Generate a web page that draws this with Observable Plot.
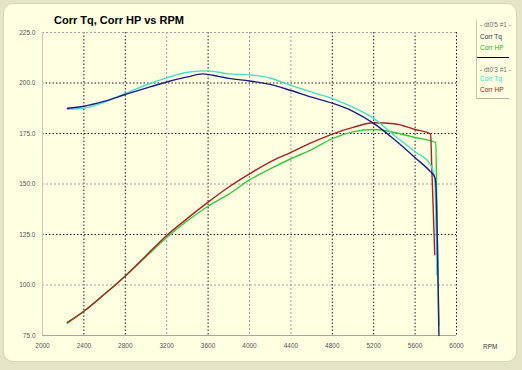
<!DOCTYPE html>
<html>
<head>
<meta charset="utf-8">
<script src="https://cdn.jsdelivr.net/npm/d3@7"></script>
<script src="https://cdn.jsdelivr.net/npm/@observablehq/plot@0.6"></script>
<style>
  html, body { margin: 0; padding: 0; }
  #wrap { position: relative; width: 522px; height: 370px; background: #e4e4c6; overflow: hidden; font-family: "Liberation Sans", Arial, sans-serif; }
  #panel { position: absolute; left: 3px; top: 3px; width: 512px; height: 357px; background: #ffffe2; border: 1px solid #d6d6b8; border-radius: 10px; }
  #chart { position: absolute; left: 0; top: 0; }
  #title { position: absolute; left: 54px; top: 14px; font-size: 11px; font-weight: bold; color: #000; }
  #rpm { position: absolute; left: 483px; top: 343px; font-size: 6.5px; color: #404040; }
  .lg { position: absolute; left: 480px; font-size: 6.5px; color: #707070; white-space: nowrap; }
  .lline { position: absolute; left: 477px; width: 32px; height: 1px; }
  #lborder { position: absolute; left: 476px; top: 20px; width: 1px; height: 79px; background: #c8c8b0; }
</style>
</head>
<body>
<div id="wrap">
  <div id="panel"></div>
  <div id="chart"></div>
  <div id="title">Corr Tq, Corr HP vs RPM</div>
  <div id="rpm">RPM</div>
  <div id="lborder"></div>
  <div class="lg" style="top:21px">- dt0'5 #1 -</div>
  <div class="lg" style="top:33px;color:#303050">Corr Tq</div>
  <div class="lg" style="top:44px;color:#30b030">Corr HP</div>
  <div class="lline" style="top:57px;background:#000"></div>
  <div class="lg" style="top:66px">- dt0'3 #1 -</div>
  <div class="lg" style="top:75px;color:#40d8c8">Corr Tq</div>
  <div class="lg" style="top:86px;color:#902020">Corr HP</div>
  <div class="lline" style="top:98px;background:#b0b0a0"></div>
</div>
<script>
// Tick values
const xTicks = [2000, 2400, 2800, 3200, 3600, 4000, 4400, 4800, 5200, 5600, 6000];
const yTicks = [75, 100, 125, 150, 175, 200, 225];
const xGridDark = [2400, 2800, 3600, 4800, 5200, 5600, 6000];
const xGridLight = [3200, 4000, 4400];
const yGridDark = [125, 175, 200];
const yGridLight = [100, 150, 225];

// Run 1 (dt0'5 #1): Corr Tq (navy), Corr HP (green)
const rpmTq1 = [2240, 2400, 2600, 2800, 3000, 3200, 3400, 3550, 3700, 3800, 4000, 4200, 4400, 4600, 4800, 5000, 5200, 5400, 5600, 5750, 5790, 5800, 5830];
const tq1    = [187.5, 188.5, 191, 194.3, 197.5, 200.5, 203, 204.5, 203.3, 202.3, 201, 199.3, 196.3, 193, 190, 186, 180, 172, 163, 156, 153.5, 150, 75];
const rpmHp1 = [2240, 2400, 2600, 2800, 3000, 3200, 3400, 3600, 3800, 4000, 4200, 4400, 4600, 4800, 5000, 5200, 5400, 5600, 5800, 5810, 5830];
const hp1    = [81, 87, 95.5, 104.5, 114, 123.5, 131.8, 139, 145, 152, 157.5, 162.5, 167, 172.5, 175.8, 177, 175.5, 173, 170.5, 140, 80];

// Run 2 (dt0'3 #1): Corr Tq (cyan), Corr HP (red)
const rpmTq2 = [2240, 2400, 2600, 2800, 3000, 3200, 3400, 3600, 3800, 4000, 4200, 4400, 4600, 4800, 5000, 5200, 5400, 5600, 5750, 5790, 5810];
const tq2    = [187, 187.5, 190.5, 194.8, 199, 202.5, 205.3, 206, 204.5, 204, 202.5, 198.8, 195.5, 192.3, 188, 182.5, 174, 166, 159.5, 152, 105];
const rpmHp2 = [2240, 2400, 2600, 2800, 3000, 3200, 3400, 3600, 3800, 4000, 4200, 4400, 4600, 4800, 5000, 5200, 5400, 5600, 5750, 5760, 5790];
const hp2    = [81.5, 87, 95.5, 104.5, 114.5, 124.5, 133, 141, 148.5, 155, 161, 165.7, 170.5, 174.7, 178, 180.3, 179.8, 177, 174.8, 160, 115];

const toRows = (xs, ys) => xs.map((x, i) => ({rpm: x, v: ys[i]}));
const series = [
  {rows: toRows(rpmHp1, hp1), color: "#3cc83c"},
  {rows: toRows(rpmHp2, hp2), color: "#a82222"},
  {rows: toRows(rpmTq2, tq2), color: "#48dccc"},
  {rows: toRows(rpmTq1, tq1), color: "#1c1c88"}
];

const chart = Plot.plot({
  width: 522,
  height: 370,
  marginLeft: 42,
  marginRight: 66,
  marginTop: 32,
  marginBottom: 35,
  style: {background: "transparent", fontFamily: "Liberation Sans, Arial, sans-serif", fontSize: "6.5px", color: "#555"},
  x: {domain: [2000, 6000]},
  y: {domain: [75, 225]},
  marks: [
    Plot.ruleX(xGridDark, {stroke: "#202020", strokeDasharray: "1.5,2", strokeWidth: 1}),
    Plot.ruleX(xGridLight, {stroke: "#a0a0a0", strokeDasharray: "2,2", strokeWidth: 1}),
    Plot.ruleY(yGridDark, {stroke: "#202020", strokeDasharray: "1.5,2", strokeWidth: 1}),
    Plot.ruleY(yGridLight, {stroke: "#a0a0a0", strokeDasharray: "2,2", strokeWidth: 1}),
    Plot.ruleX([2000], {stroke: "#c8c8b4", strokeWidth: 1}),
    Plot.ruleY([75], {stroke: "#a8a898", strokeWidth: 1}),
    Plot.axisX({ticks: xTicks, tickSize: 0, tickPadding: 8, tickFormat: d => String(d), label: null, fill: "#555"}),
    Plot.axisY({ticks: yTicks, tickSize: 0, tickPadding: 7, tickFormat: d3.format(".1f"), label: null, fill: "#555"}),
    ...series.map(s => Plot.line(s.rows, {x: "rpm", y: "v", stroke: s.color, strokeWidth: 1.4, curve: "monotone-x"}))
  ]
});
document.getElementById("chart").appendChild(chart);
</script>
</body>
</html>
